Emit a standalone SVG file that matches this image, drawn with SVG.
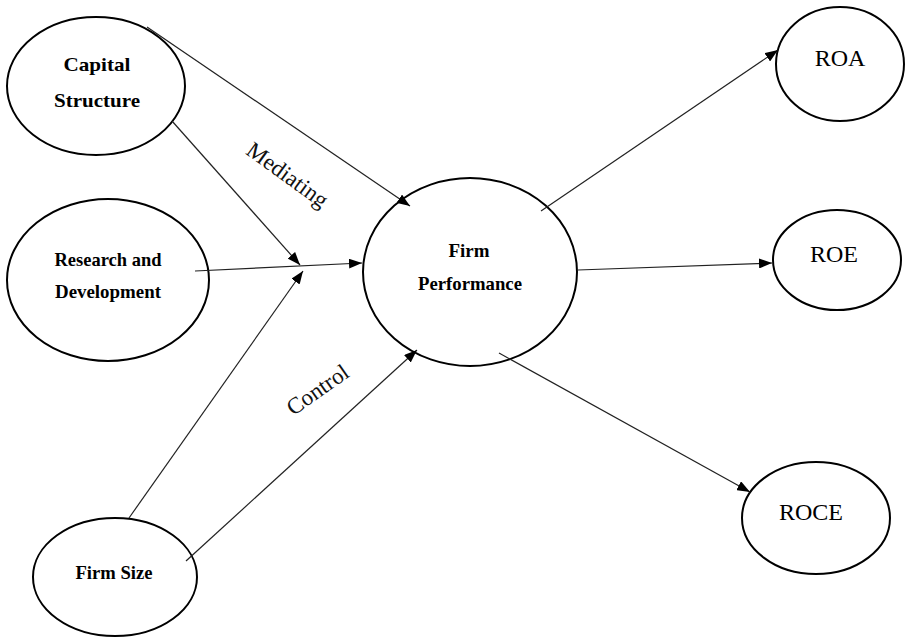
<svg xmlns="http://www.w3.org/2000/svg" width="906" height="637" viewBox="0 0 906 637">
<style>
.node{fill:#fff;stroke:#000;stroke-width:2}
.lbl{font-family:"Liberation Serif","Times New Roman",serif;font-weight:bold;font-size:19px;fill:#000;text-anchor:middle}
.rlbl{font-family:"Liberation Serif","Times New Roman",serif;font-size:24px;fill:#000;text-anchor:middle}
.edge{fill:none;stroke:#222;stroke-width:1.2;marker-end:url(#arr)}
.elbl{font-family:"Liberation Serif","Times New Roman",serif;font-size:23px;fill:#111;text-anchor:middle}
</style>
<defs>
<marker id="arr" markerUnits="userSpaceOnUse" markerWidth="13" markerHeight="10" refX="13" refY="5" orient="auto">
<path d="M0,0 L13,5 L0,10 z" fill="#000"/>
</marker>
</defs>
<rect width="906" height="637" fill="#fff"/>
<g id="nodes">
<g id="capital-structure"><ellipse class="node" cx="96" cy="86" rx="89" ry="69"/><text class="lbl" x="97" y="71" textLength="67" lengthAdjust="spacingAndGlyphs">Capital</text><text class="lbl" x="97" y="107" textLength="86" lengthAdjust="spacingAndGlyphs">Structure</text></g>
<g id="research-development"><ellipse class="node" cx="108" cy="280" rx="101" ry="81"/><text class="lbl" x="108" y="266" textLength="107" lengthAdjust="spacingAndGlyphs">Research and</text><text class="lbl" x="108" y="298" textLength="106" lengthAdjust="spacingAndGlyphs">Development</text></g>
<g id="firm-size"><ellipse class="node" cx="115" cy="577" rx="82" ry="59"/><text class="lbl" x="114" y="579" textLength="77" lengthAdjust="spacingAndGlyphs">Firm Size</text></g>
<g id="firm-performance"><ellipse class="node" cx="470" cy="272" rx="107" ry="94"/><text class="lbl" x="469" y="257" textLength="41" lengthAdjust="spacingAndGlyphs">Firm</text><text class="lbl" x="470" y="290" textLength="104" lengthAdjust="spacingAndGlyphs">Performance</text></g>
<g id="roa"><ellipse class="node" cx="840" cy="64" rx="64" ry="57"/><text class="rlbl" x="840" y="66">ROA</text></g>
<g id="roe"><ellipse class="node" cx="837" cy="260" rx="64" ry="50"/><text class="rlbl" x="834" y="262">ROE</text></g>
<g id="roce"><ellipse class="node" cx="816" cy="518" rx="74" ry="56"/><text class="rlbl" x="811" y="520">ROCE</text></g>
</g>
<g id="connectors">
<line class="edge" x1="147" y1="27" x2="410" y2="206"/>
<line class="edge" x1="172" y1="121" x2="300" y2="265"/>
<line class="edge" x1="195" y1="271" x2="362" y2="263"/>
<line class="edge" x1="129" y1="518" x2="303" y2="271"/>
<line class="edge" x1="186" y1="561" x2="417" y2="350"/>
<line class="edge" x1="541" y1="211" x2="778" y2="50"/>
<line class="edge" x1="578" y1="270" x2="772" y2="263"/>
<line class="edge" x1="499" y1="353" x2="750" y2="492"/>
<text class="elbl" transform="translate(283,181) rotate(36)">Mediating</text>
<text class="elbl" transform="translate(322,396) rotate(-35)">Control</text>
</g>
</svg>
